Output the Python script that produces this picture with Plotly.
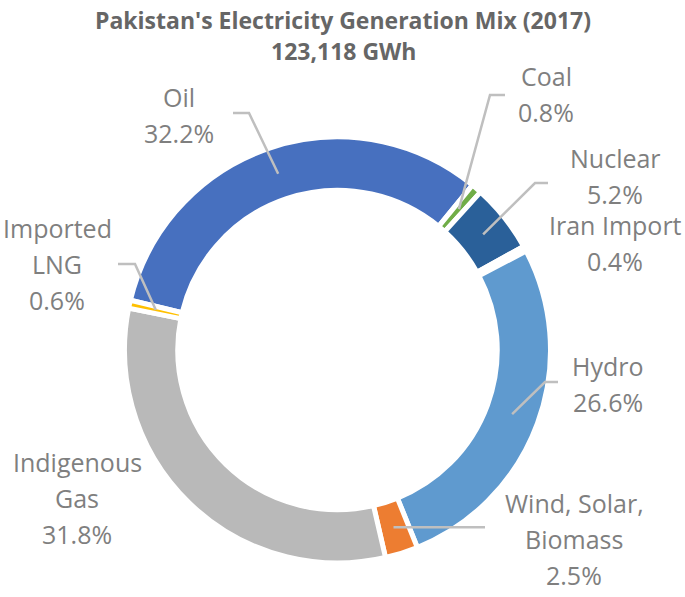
import math
import plotly.graph_objects as go

W, H = 685, 597

sources = ["Oil", "Coal", "Nuclear", "Iran Import", "Hydro",
           "Wind, Solar, Biomass", "Indigenous Gas", "Imported LNG"]
share = [32.2, 0.8, 5.2, 0.4, 26.6, 2.5, 31.8, 0.6]
label_text = ["Oil", "Coal", "Nuclear", "Iran Import", "Hydro",
              "Wind, Solar,<br>Biomass", "Indigenous<br>Gas", "Imported<br>LNG"]
colors = ["#4770BF", "#70AD47", "#2A6099", "#FFFFFF", "#5F9ACF",
          "#ED7D31", "#B9B9B9", "#FFC000"]

title_1 = "Pakistan's Electricity Generation Mix (2017)"
title_2 = "123,118 GWh"

# ring geometry (pixels)
cx, cy, R = 337.5, 350, 213
hole = 0.75
rotation = -76.5
r_lead = 186

# label placement: centre x, first line y
label_pos = {
    "Oil": (179, 97),
    "Coal": (546, 76),
    "Nuclear": (615, 158),
    "Iran Import": (615, 225),
    "Hydro": (608, 366),
    "Wind, Solar, Biomass": (574, 503),
    "Indigenous Gas": (77, 462),
    "Imported LNG": (57, 228),
}
line_gap = 36
# elbow points of leader lines (label side)
elbows = {
    "Oil": [(233, 113), (249, 113)],
    "Coal": [(505, 95), (490, 95)],
    "Nuclear": [(548, 183), (535, 183)],
    "Hydro": [(558, 382), (545, 382)],
    "Wind, Solar, Biomass": [(485, None)],
    "Imported LNG": [(118, 264), (135, 264)],
}


def px(x):
    return x / W


def py(y):
    return 1 - y / H


fig = go.Figure()
fig.add_trace(go.Pie(
    labels=sources, values=share, sort=False, direction="clockwise",
    rotation=rotation, hole=hole, textinfo="none", hoverinfo="label+percent",
    marker=dict(colors=colors, line=dict(color="white", width=5)),
    domain=dict(x=[px(cx - R), px(cx + R)], y=[py(cy + R), py(cy - R)]),
    showlegend=False,
))

# leader lines, ending at the middle of each slice
total = sum(share)
acc = 0
shapes = []
for name, v in zip(sources, share):
    mid = rotation + (acc + v / 2) / total * 360
    acc += v
    if name not in elbows:
        continue
    ex = cx + r_lead * math.sin(math.radians(mid))
    ey = cy - r_lead * math.cos(math.radians(mid))
    pts = [(x, ey if y is None else y) for x, y in elbows[name]] + [(ex, ey)]
    path = "M " + " L ".join(f"{px(x)},{py(y)}" for x, y in pts)
    shapes.append(dict(type="path", path=path, xref="paper", yref="paper",
                       line=dict(color="#BFBFBF", width=2.5), layer="above"))

annotations = []
for name, txt, v in zip(sources, label_text, share):
    x0, y0 = label_pos[name]
    lines = txt.split("<br>") + [f"{v}%"]
    for i, ln in enumerate(lines):
        annotations.append(dict(
            x=px(x0), y=py(y0 + i * line_gap), xref="paper", yref="paper",
            text=ln, showarrow=False, xanchor="center", yanchor="middle",
            font=dict(family="Open Sans", size=25, color="#7F7F7F")))

for t, y in [(title_1, 20), (title_2, 51)]:
    annotations.append(dict(
        x=px(343), y=py(y), xref="paper", yref="paper", text=f"<b>{t}</b>",
        showarrow=False, xanchor="center", yanchor="middle",
        font=dict(family="Open Sans", size=23, color="#666666")))

fig.update_layout(
    width=W, height=H, margin=dict(l=0, r=0, t=0, b=0),
    paper_bgcolor="white", plot_bgcolor="white",
    shapes=shapes, annotations=annotations,
)

# drop the page's default body margin so the figure fills the window
fig.write_html("out.html", config={"displayModeBar": False},
               post_script="document.body.style.margin='0';")
